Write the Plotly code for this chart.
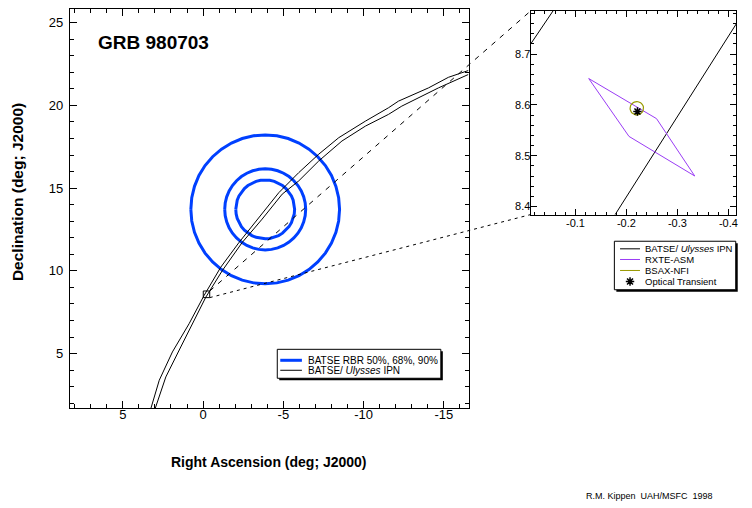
import numpy as np
import plotly.graph_objects as go

# The page body adds an 8px margin, so the figure is laid out in screen pixels
# and shifted by that offset.
OFF = 8
W, H = 752 - OFF, 508 - OFF
FONT = "Liberation Sans, Arial, Helvetica, sans-serif"

# ---------------- main panel data ----------------
main_ra_range = [8.3, -16.55]
main_dec_range = [1.7, 25.8]
main_ra_ticks = [5, 0, -5, -10, -15]
main_ra_labels = ["5", "0", "-5", "-10", "-15"]
main_dec_ticks = [5, 10, 15, 20, 25]
main_dec_labels = ["5", "10", "15", "20", "25"]

# BATSE RBR error circles (50%, 68%, 90%)
rbr_center_ra = -3.87
rbr_center_dec = 13.72
rbr_radii = [1.78, 2.45, 4.5]

# BATSE/Ulysses IPN annulus edges
ipn_a_ra = [3.25, 2.73, 1.91, 0.87, -0.06, -1.10, -2.24, -3.48, -4.72, -5.96,
            -7.20, -8.45, -10.11, -11.55, -12.17, -14.04, -15.28, -16.52]
ipn_a_dec = [1.69, 3.39, 5.10, 6.81, 8.51, 10.22, 11.72, 13.23, 14.73, 15.94,
             17.05, 18.05, 19.05, 19.86, 20.26, 21.06, 21.70, 22.11]
ipn_b_ra = [2.98, 2.32, 1.39, 0.45, -0.17, -1.20, -2.44, -3.68, -4.93, -5.96,
            -7.20, -8.65, -10.11, -11.55, -12.38, -14.66, -16.52]
ipn_b_dec = [1.69, 3.59, 5.40, 7.20, 8.41, 10.02, 11.72, 13.13, 14.64, 15.44,
             16.64, 17.85, 18.75, 19.46, 19.96, 21.06, 21.87]

# ---------------- inset data ----------------
inset_ra_range = [-0.012, -0.415]
inset_dec_range = [8.384, 8.785]
inset_ra_ticks = [-0.1, -0.2, -0.3, -0.4]
inset_ra_labels = ["-0.1", "-0.2", "-0.3", "-0.4"]
inset_dec_ticks = [8.4, 8.5, 8.6, 8.7]
inset_dec_labels = ["8.4", "8.5", "8.6", "8.7"]

ipn_a_inset_ra = [0.0, -0.066]
ipn_a_inset_dec = [8.702, 8.80]
ipn_b_inset_ra = [-0.169, -0.441]
ipn_b_inset_dec = [8.37, 8.80]

asm_ra = [-0.126, -0.259, -0.334, -0.205, -0.126]
asm_dec = [8.652, 8.573, 8.460, 8.538, 8.652]

nfi_center_ra = -0.2204
nfi_center_dec = 8.5934
nfi_radius = 0.0131

ot_ra = [-0.2216]
ot_dec = [8.587]

# ---------------- colours ----------------
BLUE = "#0040ff"
PURPLE = "#9a3cf5"
OLIVE = "#999900"


def circle(ra0, dec0, r, n=40):
    t = np.linspace(0, 2 * np.pi, n + 1)
    return ra0 + r * np.cos(t) / np.cos(np.radians(dec0)), dec0 + r * np.sin(t)


def px(x):
    return (x - OFF) / W


def py(y):
    return 1 - (y - OFF) / H


main_xdom = [px(70), px(470)]
main_ydom = [py(408), py(8.5)]
ins_xdom = [px(532), px(738)]
ins_ydom = [py(214), py(10)]


def to_paper(v, rng, dom):
    return dom[0] + (v - rng[0]) / (rng[1] - rng[0]) * (dom[1] - dom[0])


fig = go.Figure()

# main panel traces
for r in rbr_radii:
    cx, cy = circle(rbr_center_ra, rbr_center_dec, r)
    fig.add_trace(go.Scatter(x=cx, y=cy, mode="lines", line=dict(color=BLUE, width=3),
                             xaxis="x", yaxis="y", name="BATSE RBR"))
for rx, ry in [(ipn_a_ra, ipn_a_dec), (ipn_b_ra, ipn_b_dec)]:
    fig.add_trace(go.Scatter(x=rx, y=ry, mode="lines", line=dict(color="black", width=1),
                             xaxis="x", yaxis="y", name="IPN"))

# inset traces
for rx, ry in [(ipn_a_inset_ra, ipn_a_inset_dec), (ipn_b_inset_ra, ipn_b_inset_dec)]:
    fig.add_trace(go.Scatter(x=rx, y=ry, mode="lines", line=dict(color="black", width=1),
                             xaxis="x2", yaxis="y2", name="IPN"))
fig.add_trace(go.Scatter(x=asm_ra, y=asm_dec, mode="lines", line=dict(color=PURPLE, width=1),
                         xaxis="x2", yaxis="y2", name="RXTE-ASM"))
nx, ny = circle(nfi_center_ra, nfi_center_dec, nfi_radius, 32)
fig.add_trace(go.Scatter(x=nx, y=ny, mode="lines", line=dict(color=OLIVE, width=1.2),
                         xaxis="x2", yaxis="y2", name="BSAX-NFI"))
fig.add_trace(go.Scatter(x=ot_ra, y=ot_dec, mode="markers",
                         marker=dict(symbol="asterisk-open", size=7, color="black",
                                     line=dict(color="black", width=1.5)),
                         xaxis="x2", yaxis="y2", name="OT"))

# legend glyph for the asterisk (pixel overlay axis)
fig.add_trace(go.Scatter(x=[631.7], y=[281], mode="markers",
                         marker=dict(symbol="asterisk-open", size=7, color="black",
                                     line=dict(color="black", width=1.5)),
                         xaxis="x3", yaxis="y3", hoverinfo="skip"))

tickfont = dict(family=FONT, size=13, color="black")
inset_tickfont = dict(family=FONT, size=11, color="black")
common = dict(showgrid=False, zeroline=False, showline=True, linecolor="black", linewidth=1,
              mirror="allticks", ticks="inside", tickcolor="black", tickwidth=1)

fig.update_layout(
    width=W, height=H, autosize=False,
    margin=dict(l=0, r=0, t=0, b=0),
    paper_bgcolor="white", plot_bgcolor="rgba(0,0,0,0)",
    showlegend=False, hovermode=False,
    xaxis=dict(domain=main_xdom, range=main_ra_range, tickvals=main_ra_ticks,
               ticktext=main_ra_labels, ticklen=7, tickfont=tickfont, ticklabelstandoff=-6,
               minor=dict(dtick=1, tick0=0, ticklen=4, ticks="inside", tickcolor="black"),
               anchor="y", **common),
    yaxis=dict(domain=main_ydom, range=main_dec_range, tickvals=main_dec_ticks,
               ticktext=main_dec_labels, ticklen=7, tickfont=tickfont, ticklabelstandoff=3,
               minor=dict(dtick=1, tick0=0, ticklen=4, ticks="inside", tickcolor="black"),
               anchor="x", **common),
    xaxis2=dict(domain=ins_xdom, range=inset_ra_range, tickvals=inset_ra_ticks,
                ticktext=inset_ra_labels, ticklen=6, tickfont=inset_tickfont,
                ticklabelstandoff=-2,
                minor=dict(dtick=0.02, tick0=0, ticklen=3, ticks="inside", tickcolor="black"),
                anchor="y2", **common),
    yaxis2=dict(domain=ins_ydom, range=inset_dec_range, tickvals=inset_dec_ticks,
                ticktext=inset_dec_labels, ticklen=6, tickfont=inset_tickfont,
                ticklabelstandoff=-3,
                minor=dict(dtick=0.02, tick0=0, ticklen=3, ticks="inside", tickcolor="black"),
                anchor="x2", **common),
    xaxis3=dict(domain=[0, 1], range=[OFF, OFF + W], visible=False, fixedrange=True, anchor="y3"),
    yaxis3=dict(domain=[0, 1], range=[OFF + H, OFF], visible=False, fixedrange=True, anchor="x3"),
)

shapes = []
# zoom box on the main panel (inset extent)
shapes.append(dict(type="rect", xref="x", yref="y",
                   x0=inset_ra_range[0], x1=inset_ra_range[1],
                   y0=inset_dec_range[0], y1=inset_dec_range[1],
                   line=dict(color="black", width=1)))
# connector lines
bx = to_paper(inset_ra_range[1], main_ra_range, main_xdom)
by_top = to_paper(inset_dec_range[1], main_dec_range, main_ydom)
by_bot = to_paper(inset_dec_range[0], main_dec_range, main_ydom)
shapes.append(dict(type="line", xref="paper", yref="paper", x0=bx, y0=by_top,
                   x1=ins_xdom[0], y1=ins_ydom[1],
                   line=dict(color="black", width=1, dash="5px,6px")))
shapes.append(dict(type="line", xref="paper", yref="paper", x0=bx, y0=by_bot,
                   x1=ins_xdom[0], y1=ins_ydom[0],
                   line=dict(color="black", width=1, dash="3px,4px")))


def legend_box(x0, y0, x1, y1):
    shapes.append(dict(type="rect", xref="paper", yref="paper", layer="below",
                       x0=px(x0 + 2), x1=px(x1 + 2), y0=py(y0 + 2), y1=py(y1 + 2),
                       fillcolor="black", line=dict(width=0)))
    shapes.append(dict(type="rect", xref="paper", yref="paper", layer="below",
                       x0=px(x0), x1=px(x1), y0=py(y0), y1=py(y1),
                       fillcolor="white", line=dict(color="black", width=1)))


def legend_line(x0, x1, y, color, width):
    shapes.append(dict(type="line", xref="paper", yref="paper",
                       x0=px(x0), x1=px(x1), y0=py(y), y1=py(y),
                       line=dict(color=color, width=width)))


# main legend
legend_box(278, 349, 442, 378)
legend_line(281, 302.7, 360, BLUE, 3)
legend_line(281, 302.7, 370, "black", 1)
# inset legend
legend_box(616, 240.7, 737.7, 289.3)
legend_line(621.7, 641.7, 248.3, "black", 1)
legend_line(621.7, 641.7, 259, PURPLE, 1)
legend_line(621.7, 641.7, 270, OLIVE, 1)

fig.update_layout(shapes=shapes)

ann = []


def text(x, y, s, size, bold=False, xanchor="left", angle=0):
    ann.append(dict(xref="paper", yref="paper", x=px(x), y=py(y), text=s, showarrow=False,
                    xanchor=xanchor, yanchor="middle", textangle=angle,
                    font=dict(family=FONT, size=size, color="black",
                              weight="bold" if bold else "normal")))


text(96, 41.4, "GRB 980703", 19, bold=True)
text(270, 461.7, "Right Ascension (deg; J2000)", 14, bold=True, xanchor="center")
text(17.5, 191, "Declination (deg; J2000)", 15.5, bold=True, xanchor="center", angle=-90)
text(651, 495.7, "R.M. Kippen  UAH/MSFC  1998", 9, xanchor="center")

text(307, 360, "BATSE RBR 50%, 68%, 90%", 10)
text(307, 370, "BATSE/ <i>Ulysses</i> IPN", 10)

text(644.5, 248.3, "BATSE/ <i>Ulysses</i> IPN", 9.5)
text(644.5, 259, "RXTE-ASM", 9.5)
text(644.5, 270, "BSAX-NFI", 9.5)
text(644.5, 281, "Optical Transient", 9.5)

fig.update_layout(annotations=ann)

fig.write_html("out.html")
